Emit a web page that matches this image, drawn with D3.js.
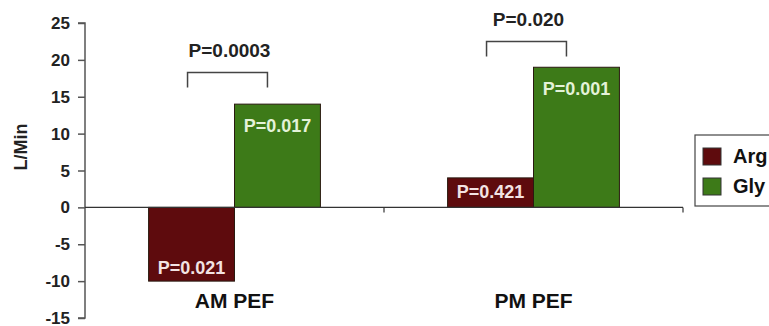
<!DOCTYPE html>
<html lang="en-US">
<head>
<meta charset="utf-8">
<script src="https://d3js.org/d3.v7.min.js"></script>
<style>
    body { margin: 0; background: #fff; }
    svg text { font-family: "Liberation Sans", Arial, sans-serif; font-weight: bold; }
</style>
</head>
<body>
<svg width="769" height="326"></svg>
<script>
var categories = ["AM PEF", "PM PEF"];
var series = ["Arg", "Gly"];
var argValues = [-10, 4];
var glyValues = [14, 19];
var argLabels = ["P=0.021", "P=0.421"];
var glyLabels = ["P=0.017", "P=0.001"];
var bracketLabels = ["P=0.0003", "P=0.020"];
var bracketLevels = [18.3, 22.5];
var yTicks = [25, 20, 15, 10, 5, 0, -5, -10, -15];

var colors = {Arg: "#5e0b0d", Gly: "#3d7a18"};
var textColors = {Arg: "#f3e3e3", Gly: "#e4f2d8"};

var svg = d3.select("svg");
var y = d3.scaleLinear().domain([-15, 25]).range([318, 23]);
var x0 = d3.scaleBand().domain(categories).range([85, 683]);
var x1 = d3.scaleBand().domain(series).range([0, x0.bandwidth()]).paddingOuter(0.74);

// y axis: lines from d3.axisLeft, labels drawn as plain texts
var yAxis = svg.append("g").attr("transform", "translate(85,0)")
    .call(d3.axisLeft(y).tickValues(yTicks).tickSize(7).tickFormat(""));
yAxis.selectAll("line, path").attr("stroke", "#555").attr("stroke-width", 1.5);
yAxis.select(".domain").attr("d", "M-7," + y(25) + "H0V" + y(-15) + "H-7");

svg.append("g").selectAll("text").data(yTicks).enter().append("text")
    .attr("x", 70)
    .attr("y", d => y(d) + 6)
    .attr("text-anchor", "end")
    .attr("fill", "#222")
    .style("font-size", "17px")
    .text(d => String(d));

svg.append("text")
    .attr("transform", "translate(27," + y(8.2) + ") rotate(-90)")
    .attr("text-anchor", "middle")
    .attr("fill", "#222").style("font-size", "18px")
    .text("L/Min");

var data = [];
categories.forEach(function(c, i) {
    data.push({cat: c, s: "Arg", v: argValues[i], label: argLabels[i]});
    data.push({cat: c, s: "Gly", v: glyValues[i], label: glyLabels[i]});
});

var bars = svg.append("g").selectAll("g").data(data).enter().append("g");
bars.append("rect")
    .attr("x", d => x0(d.cat) + x1(d.s))
    .attr("width", x1.bandwidth())
    .attr("y", d => y(Math.max(0, d.v)))
    .attr("height", d => Math.abs(y(d.v) - y(0)))
    .attr("fill", d => colors[d.s])
    .attr("stroke", "#2a1a10").attr("stroke-width", 1);

bars.append("text")
    .attr("x", d => x0(d.cat) + x1(d.s) + x1.bandwidth() / 2)
    .attr("y", d => d.v < 0 ? y(d.v) - 7 : (d.v < 6 ? y(d.v) + 20 : y(d.v) + 28))
    .attr("text-anchor", "middle")
    .attr("fill", d => textColors[d.s])
    .style("font-size", "18px")
    .text(d => d.label);

// zero line with category ticks
svg.append("path")
    .attr("d", "M85," + y(0) + "H683")
    .attr("stroke", "#333").attr("stroke-width", 1.2).attr("fill", "none");
[x0.range()[0] + x0.bandwidth(), x0.range()[1]].forEach(function(px) {
    svg.append("line").attr("x1", px).attr("x2", px).attr("y1", y(0)).attr("y2", y(0) + 5)
        .attr("stroke", "#333").attr("stroke-width", 1.2);
});

svg.append("g").selectAll("text").data(categories).enter().append("text")
    .attr("x", d => x0(d) + x0.bandwidth() / 2)
    .attr("y", 308)
    .attr("text-anchor", "middle")
    .attr("fill", "#111").style("font-size", "21px")
    .text(d => d);

// significance brackets
categories.forEach(function(c, i) {
    var xa = x0(c) + x1("Arg") + x1.bandwidth() / 2 - 4;
    var xb = x0(c) + x1("Gly") + x1.bandwidth() / 2 - 10;
    var top = y(bracketLevels[i]);
    svg.append("path")
        .attr("d", "M" + xa + "," + (top + 15) + "V" + top + "H" + xb + "V" + (top + 15))
        .attr("stroke", "#444").attr("stroke-width", 1.5).attr("fill", "none");
    svg.append("text")
        .attr("x", (xa + xb) / 2 + 2)
        .attr("y", top - 15)
        .attr("text-anchor", "middle")
        .attr("fill", "#222").style("font-size", "19px")
        .text(bracketLabels[i]);
});

// legend
var legend = svg.append("g").attr("transform", "translate(695,135)");
legend.append("rect").attr("width", 100).attr("height", 71)
    .attr("fill", "#fff").attr("stroke", "#444").attr("stroke-width", 1.2);
series.forEach(function(s, i) {
    legend.append("rect").attr("x", 8).attr("y", 13 + i * 30).attr("width", 18).attr("height", 17)
        .attr("fill", colors[s]).attr("stroke", "#333").attr("stroke-width", 1);
    legend.append("text").attr("x", 38).attr("y", 28 + i * 30)
        .attr("fill", "#111").style("font-size", "20px").text(s);
});
</script>
</body>
</html>
